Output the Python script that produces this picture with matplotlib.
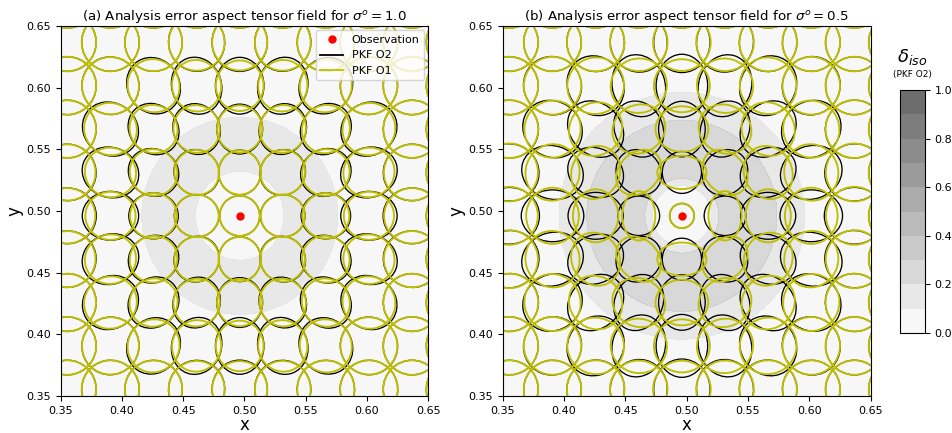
import numpy as np
import matplotlib.pyplot as plt
from matplotlib.patches import Ellipse
from matplotlib.lines import Line2D

#<------------------------- Data ----------------------------------------->
obs_x = 0.49609
obs_y = 0.49609
step = 0.03516
offsets = np.arange(-5, 6)
far_len = 0.0235

# squared grid distance (i^2 + j^2) of each ring around the observation
ring_n = [0, 1, 2, 4, 5, 8, 9, 10, 13, 16, 17, 18, 20]

# panel (a), sigma_o = 1.0 : radial / tangential half-axes
a_o1_rad = [0.0163, 0.0180, 0.0185, 0.0192, 0.0196, 0.0200, 0.0205, 0.0210, 0.0218, 0.0228, 0.0230, 0.0233, 0.0234]
a_o1_tan = [0.0163, 0.0172, 0.0180, 0.0185, 0.0188, 0.0192, 0.0195, 0.0200, 0.0210, 0.0225, 0.0228, 0.0232, 0.0234]
a_o2_rad = [0.0163, 0.0182, 0.0190, 0.0202, 0.0210, 0.0220, 0.0230, 0.0234, 0.0236, 0.0236, 0.0235, 0.0235, 0.0235]
a_o2_tan = [0.0163, 0.0172, 0.0181, 0.0187, 0.0190, 0.0195, 0.0198, 0.0203, 0.0212, 0.0226, 0.0229, 0.0232, 0.0234]

# panel (b), sigma_o = 0.5
b_o1_rad = [0.0100, 0.0135, 0.0160, 0.0185, 0.0195, 0.0210, 0.0215, 0.0220, 0.0228, 0.0232, 0.0233, 0.0234, 0.0235]
b_o1_tan = [0.0100, 0.0200, 0.0205, 0.0215, 0.0220, 0.0225, 0.0228, 0.0230, 0.0233, 0.0235, 0.0235, 0.0235, 0.0235]
b_o2_rad = [0.0100, 0.0170, 0.0195, 0.0225, 0.0235, 0.0250, 0.0255, 0.0255, 0.0250, 0.0245, 0.0242, 0.0240, 0.0238]
b_o2_tan = [0.0100, 0.0160, 0.0175, 0.0190, 0.0195, 0.0205, 0.0210, 0.0215, 0.0225, 0.0230, 0.0232, 0.0233, 0.0234]

# delta_iso radial profile (distance to obs -> value)
prof_r = [0.0, 0.020, 0.030, 0.036, 0.050, 0.065, 0.080, 0.095, 0.120, 0.300]
prof_a = [0.02, 0.05, 0.08, 0.10, 0.14, 0.13, 0.10, 0.05, 0.02, 0.0]
prof_r_b = [0.0, 0.018, 0.0245, 0.030, 0.045, 0.055, 0.062, 0.0775, 0.090, 0.100, 0.120, 0.300]
prof_b = [0.02, 0.08, 0.10, 0.20, 0.27, 0.29, 0.28, 0.20, 0.15, 0.10, 0.03, 0.0]

titles = ['(a) Analysis error aspect tensor field for $\\sigma^o = 1.0$',
          '(b) Analysis error aspect tensor field for $\\sigma^o = 0.5$']
ticks = [0.35, 0.40, 0.45, 0.50, 0.55, 0.60, 0.65]
levels = np.linspace(0, 1, 11)


def half_axes(n, rad, tan):
    if n in ring_n:
        k = ring_n.index(n)
        return rad[k], tan[k]
    return far_len, far_len


def draw_tensors(ax, rad, tan, color, lw):
    for i in offsets:
        for j in offsets:
            n = int(i * i + j * j)
            r, t = half_axes(n, rad, tan)
            ang = np.degrees(np.arctan2(j, i)) if n > 0 else 0.0
            e = Ellipse((obs_x + i * step, obs_y + j * step), 2 * r, 2 * t,
                        angle=ang, fill=False, ec=color, lw=lw)
            ax.add_patch(e)


#<------------------------- Figure --------------------------------------->
fig = plt.figure(figsize=(9.53, 4.33), dpi=100)
ax1 = fig.add_axes([0.0637, 0.0855, 0.3857, 0.8545])
ax2 = fig.add_axes([0.5275, 0.0855, 0.3861, 0.8545])
cax = fig.add_axes([0.9444, 0.231, 0.026, 0.561])

gx = np.linspace(0.35, 0.65, 401)
X, Y = np.meshgrid(gx, gx)
R = np.hypot(X - obs_x, Y - obs_y)

panels = [(ax1, prof_r, prof_a, a_o1_rad, a_o1_tan, a_o2_rad, a_o2_tan),
          (ax2, prof_r_b, prof_b, b_o1_rad, b_o1_tan, b_o2_rad, b_o2_tan)]

for k, (ax, pr, pv, o1r, o1t, o2r, o2t) in enumerate(panels):
    Z = np.interp(R, pr, pv)
    cs = ax.contourf(X, Y, Z, levels=levels, cmap='gray_r', alpha=0.6)
    draw_tensors(ax, o2r, o2t, 'k', 0.95)
    draw_tensors(ax, o1r, o1t, 'y', 1.35)
    ax.plot(obs_x, obs_y, 'o', color='red', ms=5, zorder=5)
    ax.set_xlim(0.35, 0.65)
    ax.set_ylim(0.35, 0.65)
    ax.set_xticks(ticks)
    ax.set_yticks(ticks)
    ax.set_xticklabels(['%.2f' % t for t in ticks], fontsize=8)
    ax.set_yticklabels(['%.2f' % t for t in ticks], fontsize=8)
    ax.set_xlabel('x', fontsize=12, labelpad=0)
    ax.set_ylabel('y', fontsize=12, labelpad=2)
    ax.set_title(titles[k], fontsize=9.6, pad=4)

handles = [Line2D([], [], ls='none', marker='o', color='red', ms=5),
           Line2D([], [], color='k', lw=1.3),
           Line2D([], [], color='y', lw=1.3)]
ax1.legend(handles, ['Observation', 'PKF O2', 'PKF O1'], loc='upper right',
           fontsize=8, borderaxespad=0.4)

cb = fig.colorbar(cs, cax=cax, ticks=[0.0, 0.2, 0.4, 0.6, 0.8, 1.0])
cb.ax.tick_params(labelsize=8)
cb.ax.set_yticklabels(['0.0', '0.2', '0.4', '0.6', '0.8', '1.0'])
cax.text(0.5, 1.095, '$\\delta_{iso}$', transform=cax.transAxes, ha='center',
         va='bottom', fontsize=13)
cax.text(0.5, 1.045, '(PKF O2)', transform=cax.transAxes, ha='center',
         va='bottom', fontsize=6.5)

fig.savefig('out.png', dpi=100)
